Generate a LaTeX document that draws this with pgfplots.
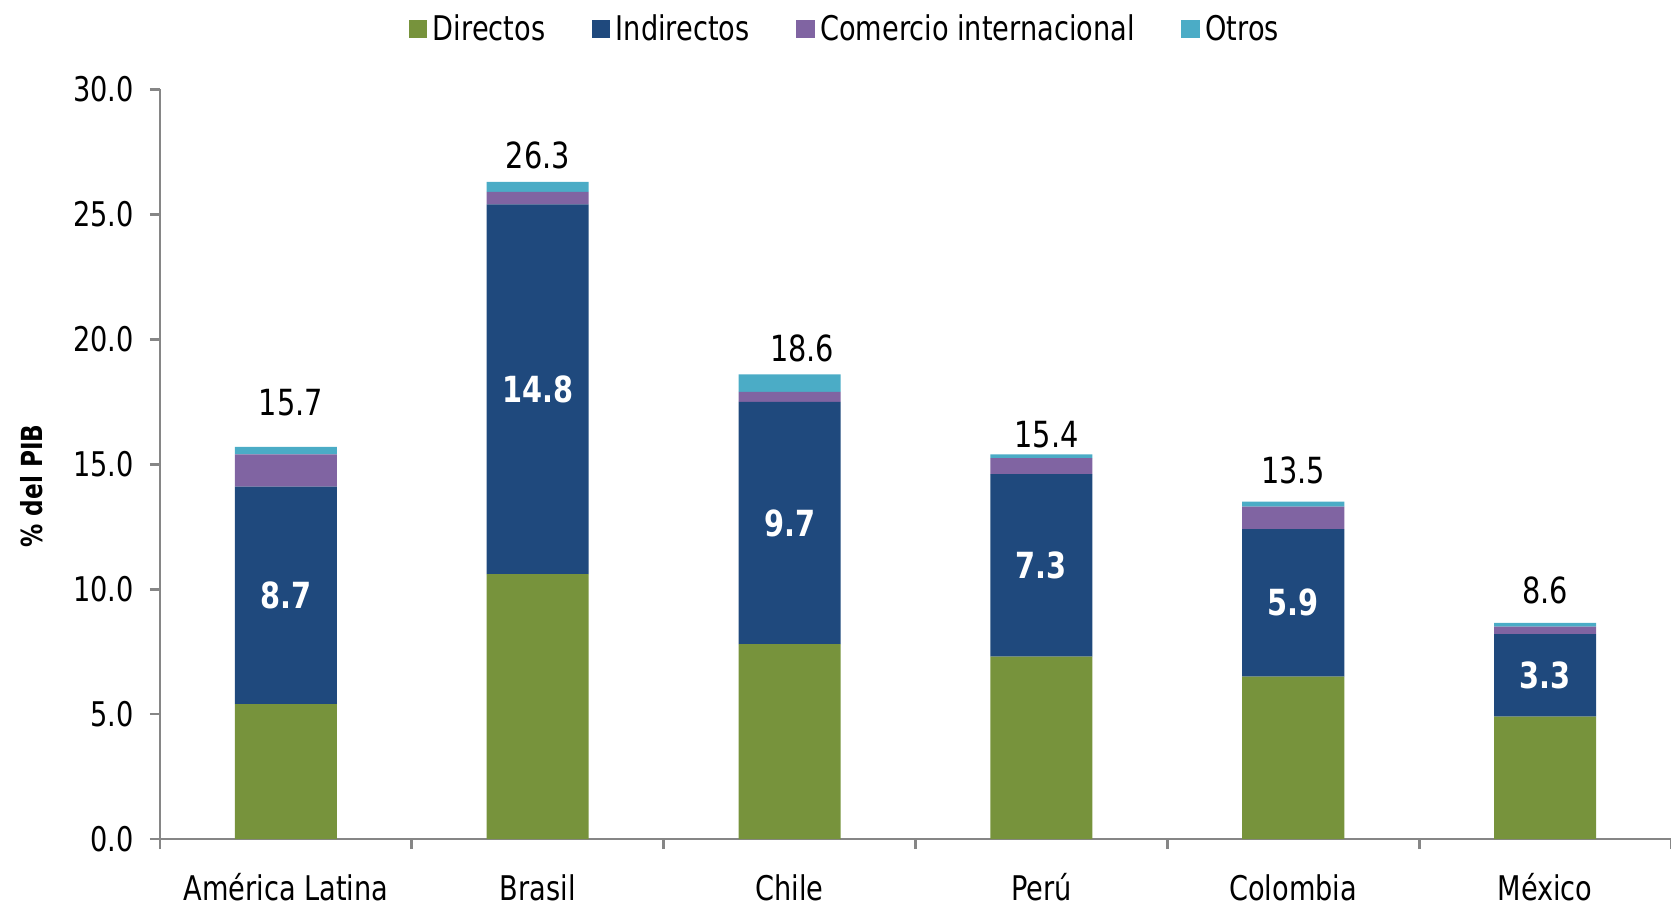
\documentclass[border=0pt]{standalone}
\usepackage{pgfplots}
\pgfplotsset{compat=1.18}
\usepackage{pgfplotstable}
\usepackage{fontspec}
\setmainfont{DejaVu Sans}[FakeStretch=0.8]
\definecolor{cDir}{HTML}{77933C}
\definecolor{cInd}{HTML}{1F497D}
\definecolor{cCom}{HTML}{8064A2}
\definecolor{cOtr}{HTML}{4BACC6}
\definecolor{axgray}{HTML}{868686}

\pgfplotstableread{
x dir ind com otr
0 5.4 8.7 1.3 0.3
1 10.6 14.8 0.5 0.4
2 7.8 9.7 0.4 0.7
3 7.3 7.3 0.65 0.15
4 6.5 5.9 0.9 0.2
5 4.9 3.3 0.3 0.15
}\datatable

% label positions: middle of the Indirectos segment, and above each stack
\pgfplotstableread{
x ly lab
0 9.75 8.7
1 18.0 14.8
2 12.65 9.7
3 10.95 7.3
4 9.45 5.9
5 6.55 3.3
}\midtable
\pgfplotstableread{
x ly lab
0.02 17.45 15.7
1.0 27.36 26.3
2.05 19.63 18.6
3.02 16.2 15.4
4.0 14.77 13.5
5.0 9.94 8.6
}\tottable

\begin{document}
\begin{tikzpicture}
\begin{axis}[
  at={(0,0)}, anchor=south west,
  scale only axis, width=755.5pt, height=374.75pt,
  ybar stacked, bar width=51pt,
  xmin=-0.5, xmax=5.5, ymin=0, ymax=30,
  axis x line*=bottom, axis y line*=left,
  axis line style={axgray, line width=1.4pt},
  tick style={axgray, line width=1.4pt},
  tick align=outside,
  major tick length=5pt,
  xtick={-0.5,0.5,...,5.5}, xticklabels={},
  extra x ticks={0,1,2,3,4,5},
  extra x tick labels={América Latina,Brasil,Chile,Perú,Colombia,México},
  extra x tick style={major tick length=0pt, xticklabel style={anchor=base, yshift=-30.5pt, inner sep=0pt}},
  ytick={0,5,...,30},
  yticklabel style={/pgf/number format/fixed, /pgf/number format/fixed zerofill, /pgf/number format/precision=1, /pgf/number format/assume math mode=true, anchor=east, inner sep=0pt, xshift=-8pt},
  tick label style={font=\fontsize{17}{20}\selectfont},
  ylabel={\bfseries\fontsize{14.5}{16}\selectfont \% del PIB},
  every axis y label/.style={at={(axis description cs:-0.0847,0.471)}, rotate=90, anchor=center},
  legend columns=4,
  legend style={at={(rel axis cs:0.4545,1.0807)}, anchor=center, draw=none, fill=none, font=\fontsize{17}{20}\selectfont, nodes={inner sep=2.8pt}, /tikz/every even column/.append style={column sep=20.5pt}},
  legend image code/.code={\fill[#1] (0pt,-4.6pt) rectangle (9.2pt,4.6pt);},
  clip=false,
]
\addplot[fill=cDir, draw=none] table[x=x,y=dir]{\datatable};
\addplot[fill=cInd, draw=none] table[x=x,y=ind]{\datatable};
\addplot[fill=cCom, draw=none] table[x=x,y=com]{\datatable};
\addplot[fill=cOtr, draw=none] table[x=x,y=otr]{\datatable};
\legend{Directos,Indirectos,Comercio internacional,Otros}
\end{axis}
\begin{axis}[
  at={(0,0)}, anchor=south west,
  scale only axis, width=755.5pt, height=374.75pt,
  xmin=-0.5, xmax=5.5, ymin=0, ymax=30,
  hide axis, clip=false,
]
\addplot[draw=none, mark=none, nodes near coords, point meta=explicit symbolic,
  nodes near coords style={anchor=center, inner sep=0pt, text=white, font=\bfseries\fontsize{18}{20}\selectfont}]
  table[x=x,y=ly,meta=lab]{\midtable};
\addplot[draw=none, mark=none, nodes near coords, point meta=explicit symbolic,
  nodes near coords style={anchor=center, inner sep=0pt, text=black, font=\fontsize{18}{20}\selectfont}]
  table[x=x,y=ly,meta=lab]{\tottable};
\end{axis}
\pgfresetboundingbox
\path[use as bounding box] (-80pt,-33.15pt) rectangle (755.5pt,419.5pt);
\end{tikzpicture}
\end{document}
